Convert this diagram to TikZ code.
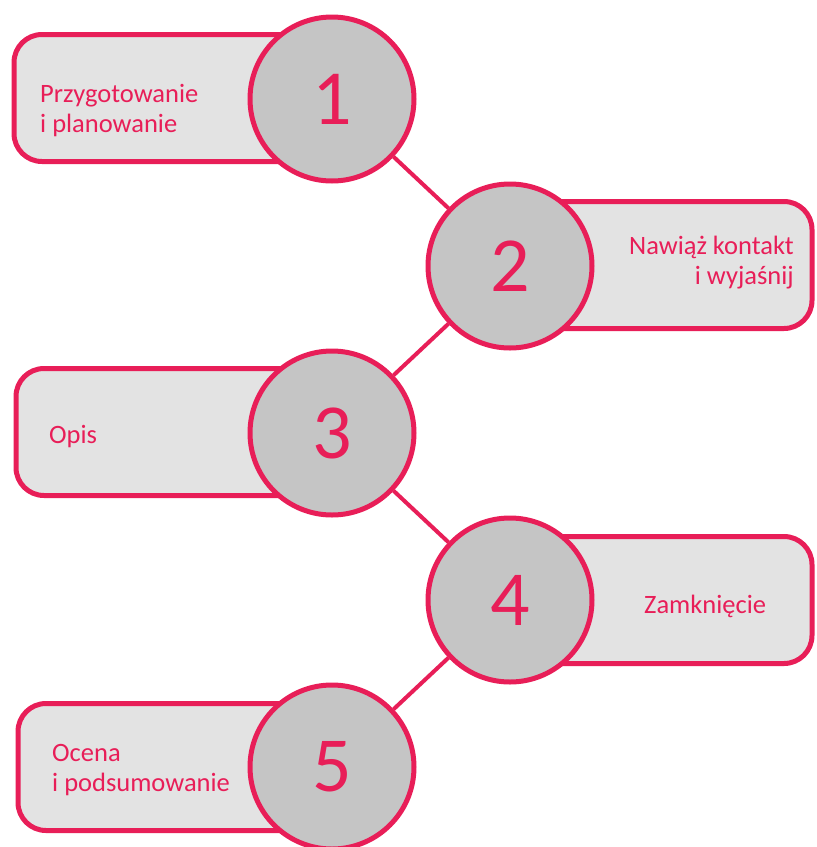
\documentclass[tikz,border=0pt]{standalone}
\usepackage{fontspec}
\setmainfont{Carlito}
\definecolor{stepred}{RGB}{232,30,88}
\definecolor{boxgray}{RGB}{227,227,227}
\definecolor{circgray}{RGB}{197,197,197}

\begin{document}
\begin{tikzpicture}[x=1pt, y=-1pt,
  stepbox/.style={draw=stepred, fill=boxgray, line width=5pt, rounded corners=28pt, minimum height=127pt, inner sep=0pt},
  stepcirc/.style={circle, draw=stepred, fill=circgray, line width=5pt, minimum size=164pt, inner sep=0pt, text=stepred, font=\fontsize{78}{80}\selectfont},
  steplabel/.style={text=stepred, inner sep=0pt, font=\fontsize{26.5}{30}\selectfont}]
  \useasboundingbox (0,0) rectangle (817,847);

  % Boxes behind the circles
  \node[stepbox, minimum width=318pt] (box1) at (173,98) {};
  \node[stepbox, minimum width=302pt] (box2) at (661,265) {};
  \node[stepbox, minimum width=316pt] (box3) at (174,432) {};
  \node[stepbox, minimum width=302pt] (box4) at (661,600) {};
  \node[stepbox, minimum width=314pt] (box5) at (175,767) {};

  % Labels (base = last line)
  \node[steplabel, anchor=base west, align=left] (lab1) at (40,132) {Przygotowanie\\i planowanie};
  \node[steplabel, anchor=base east, align=right] (lab2) at (794,284) {Nawiąż kontakt\\i wyjaśnij};
  \node[steplabel, anchor=base west] (lab3) at (49,443) {Opis};
  \node[steplabel, anchor=base west] (lab4) at (644,613) {Zamknięcie};
  \node[steplabel, anchor=base west, align=left] (lab5) at (52,791) {Ocena\\i podsumowanie};

  % Numbered circles
  \node[stepcirc] (c1) at (332,99) {1};
  \node[stepcirc] (c2) at (510,266) {2};
  \node[stepcirc] (c3) at (332,433) {3};
  \node[stepcirc] (c4) at (510,600) {4};
  \node[stepcirc] (c5) at (332,767) {5};

  % Connectors
  \foreach \a/\b in {c1/c2, c2/c3, c3/c4, c4/c5}
    \draw[stepred, line width=4pt] (\a) -- (\b);
\end{tikzpicture}
\end{document}
